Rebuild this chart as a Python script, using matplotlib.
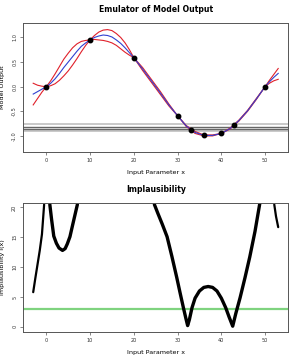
import numpy as np
import matplotlib
matplotlib.use("Agg")
import matplotlib.pyplot as plt

# design runs of the model
x_design = [0, 10, 20, 30, 33, 36, 40, 43, 50]
y_design = [0.0, 0.95, 0.59, -0.59, -0.87, -0.98, -0.95, -0.77, 0.0]

# emulator mean and +/- bounds
x_em = [-3, -2, -1, 0, 1, 2, 3, 4, 5, 6, 7, 8, 9, 10, 11, 12, 13, 14, 15, 16, 17, 18, 19, 20,
        22, 24, 26, 28, 30, 32, 34, 36, 38, 40, 42, 44, 46, 48, 50, 51, 52, 53]
em_mean = [-0.15, -0.10, -0.05, 0.0, 0.07, 0.16, 0.27, 0.39, 0.50, 0.61, 0.72, 0.82, 0.89, 0.95,
           1.00, 1.03, 1.05, 1.04, 1.01, 0.95, 0.88, 0.79, 0.69, 0.59,
           0.36, 0.12, -0.12, -0.37, -0.59, -0.80, -0.93, -0.99, -0.99, -0.95, -0.85, -0.69,
           -0.49, -0.25, 0.0, 0.10, 0.19, 0.27]
em_upper = [0.07, 0.03, 0.01, 0.0, 0.12, 0.26, 0.41, 0.56, 0.68, 0.79, 0.87, 0.92, 0.94, 0.95,
            1.04, 1.11, 1.15, 1.16, 1.14, 1.08, 1.00, 0.89, 0.75, 0.59,
            0.39, 0.15, -0.09, -0.35, -0.59, -0.79, -0.91, -0.98, -0.98, -0.95, -0.84, -0.68,
            -0.48, -0.24, 0.0, 0.13, 0.25, 0.37]
em_lower = [-0.37, -0.24, -0.11, 0.0, 0.02, 0.06, 0.13, 0.22, 0.32, 0.44, 0.57, 0.71, 0.84, 0.95,
            0.96, 0.95, 0.94, 0.92, 0.89, 0.84, 0.77, 0.70, 0.64, 0.59,
            0.33, 0.09, -0.15, -0.39, -0.59, -0.81, -0.95, -1.0, -1.0, -0.95, -0.86, -0.70,
            -0.50, -0.26, 0.0, 0.07, 0.12, 0.15]

# observation z with its error lines
obs_dark = [-0.815, -0.855]
obs_light = [-0.755, -0.90]

# implausibility branches (values above 20 go out of the frame)
imp_x1 = [-3.0, -2.5, -2.0, -1.5, -1.0, -0.5]
imp_y1 = [5.8, 8.2, 10.5, 12.8, 15.5, 20.5]
imp_x2 = [0.8, 1.2, 1.7, 2.3, 2.9, 3.7, 4.3, 4.8, 5.4, 5.9, 6.5, 7.1]
imp_y2 = [20.5, 18.0, 15.2, 14.0, 13.2, 12.8, 13.1, 13.9, 15.1, 16.7, 18.6, 20.5]
imp_x3 = [24.7, 25.5, 26.5, 27.6, 28.7, 29.8, 30.6, 31.3, 31.9, 32.3, 32.7, 33.3, 34.0, 35.0,
          36.0, 37.0, 38.0, 39.0, 40.0, 41.0, 41.8, 42.6, 43.3, 44.3, 45.4, 46.5, 47.7, 48.8]
imp_y3 = [20.5, 19.0, 17.2, 15.1, 11.8, 8.3, 5.6, 3.3, 1.4, 0.2, 1.2, 3.2, 4.8, 6.0,
          6.6, 6.75, 6.6, 6.0, 4.8, 3.2, 1.6, 0.1, 2.2, 4.9, 8.2, 11.7, 16.0, 20.7]
imp_x4 = [52.1, 52.5, 53.0]
imp_y4 = [20.5, 18.5, 16.7]
cutoff = 3

fs_tick = 3.6
fs_lab = 4.6
fs_title = 5.6
spine_col = '#555555'


def style_axes(ax):
    for s in ax.spines.values():
        s.set_color(spine_col)
        s.set_linewidth(0.7)
    ax.tick_params(direction='out', length=2.5, width=0.5, colors=spine_col,
                   labelsize=fs_tick, labelcolor='#333333', pad=2)
    for lab in ax.get_yticklabels():
        lab.set_rotation(90)
        lab.set_va('center')


fig = plt.figure(figsize=(3.0, 3.6), dpi=100)

# ---------------- emulator
ax1 = fig.add_axes([0.078, 0.579, 0.882, 0.356])
for h in obs_light:
    ax1.axhline(h, color='#bbbbbb', lw=1.1)
for h in obs_dark:
    ax1.axhline(h, color='#666666', lw=1.0)
ax1.plot(x_em, em_upper, color='#e0202a', lw=0.8)
ax1.plot(x_em, em_lower, color='#e0202a', lw=0.8)
ax1.plot(x_em, em_mean, color='#3040d0', lw=0.8)
ax1.plot(x_design, y_design, 'o', color='black', ms=3.2)
ax1.set_xlim(-5.24, 55.24)
ax1.set_ylim(-1.318, 1.286)
ax1.set_xticks([0, 10, 20, 30, 40, 50])
ax1.set_yticks([-1.0, -0.5, 0.0, 0.5, 1.0])
ax1.set_yticklabels(['-1.0', '-0.5', '0.0', '0.5', '1.0'])
ax1.set_title('Emulator of Model Output', fontsize=fs_title, fontweight='bold', pad=8)
ax1.set_xlabel('Input Parameter x', fontsize=fs_lab, labelpad=5)
ax1.set_ylabel('Model Output', fontsize=fs_lab, labelpad=5)
style_axes(ax1)

# ---------------- implausibility
ax2 = fig.add_axes([0.078, 0.079, 0.882, 0.358])
ax2.axhline(cutoff, color='#7fd37f', lw=1.6)
for xs, ys, w in [(imp_x1, imp_y1, 1.6), (imp_x2, imp_y2, 2.4),
                  (imp_x3, imp_y3, 2.4), (imp_x4, imp_y4, 1.6)]:
    ax2.plot(xs, ys, color='black', lw=w, solid_capstyle='round', solid_joinstyle='round')
ax2.set_xlim(-5.24, 55.24)
ax2.set_ylim(-0.8, 20.8)
ax2.set_xticks([0, 10, 20, 30, 40, 50])
ax2.set_yticks([0, 5, 10, 15, 20])
ax2.set_title('Implausibility', fontsize=fs_title, fontweight='bold', pad=8)
ax2.set_xlabel('Input Parameter x', fontsize=fs_lab, labelpad=5)
ax2.set_ylabel('Implausibility I(x)', fontsize=fs_lab, labelpad=5)
style_axes(ax2)

fig.savefig('out.png', dpi=100)
